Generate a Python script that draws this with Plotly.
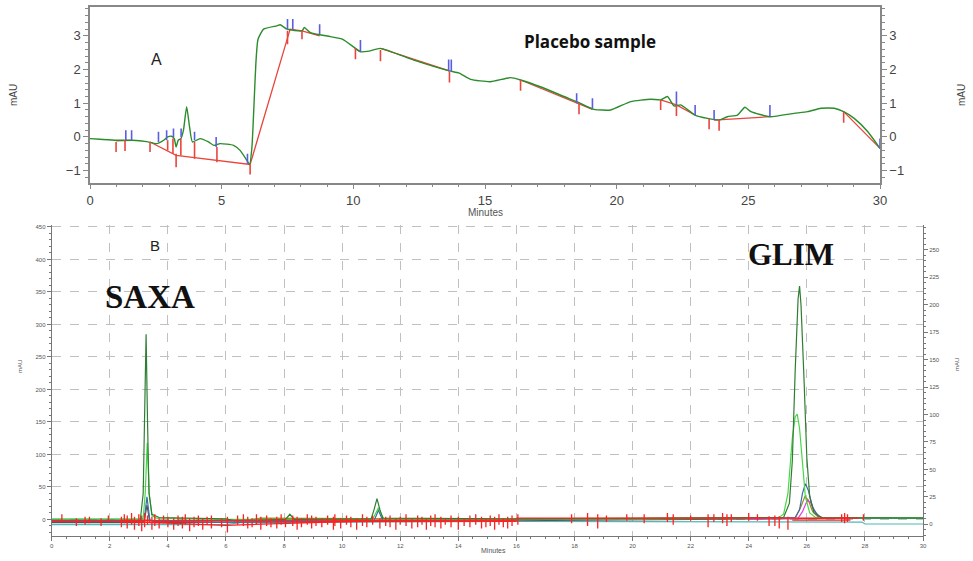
import plotly.graph_objects as go

W, H = 973, 561

# ---------------- Panel A (placebo sample) ----------------
a_time = [0, 0.38, 1.0, 1.6, 2.15, 2.53, 2.8, 2.95, 3.1, 3.2, 3.27, 3.35, 3.45, 3.55, 3.67, 3.78, 3.89, 4.18, 4.5, 4.7, 4.94, 5.45, 5.7, 5.96, 6.06,
          6.15, 6.23, 6.3, 6.38, 6.59, 7.1, 7.22, 7.48, 8.05, 8.14, 8.37, 9.13, 9.6, 10.08, 10.27, 10.6, 11.03, 12.3, 13.65, 14.0, 14.45,
          15.2, 15.97, 16.35, 17.1, 18.0, 18.57, 19.14, 19.77, 20.53, 21.3, 21.67, 21.93, 22.18, 22.43, 22.97, 23.45, 23.89, 24.2, 24.59,
          24.87, 25.1, 25.82, 26.74, 27.25, 27.76, 28.26, 28.62, 29.02, 29.53, 30.0]
a_mau = [-0.05, -0.07, -0.1, -0.1, -0.14, -0.2, -0.1, 0.0, 0.02, -0.05, -0.3, -0.1, -0.05, 0.2, 0.9, 0.3, -0.15, -0.05, -0.15, -0.25, -0.2, -0.25, -0.4, -0.7, -0.82,
         -0.3, 1.0, 2.2, 2.9, 3.2, 3.3, 3.33, 3.2, 3.15, 3.25, 3.1, 2.98, 2.9, 2.63, 2.53, 2.55, 2.63, 2.28, 1.96, 1.9, 1.71,
         1.64, 1.76, 1.69, 1.49, 1.2, 1.02, 0.82, 0.8, 1.05, 1.12, 1.1, 1.2, 0.92, 0.95, 0.65, 0.55, 0.5, 0.6, 0.65,
         0.88, 0.75, 0.6, 0.7, 0.75, 0.85, 0.85, 0.75, 0.55, 0.16, -0.34]

# integration baselines (None = break)
a_base_t = [0.99, 1.6, None, 2.28, 3.27, 6.08, 7.6, 8.05, 8.72, None, 10.05, 10.27, None, 11.03, 13.65, None,
            16.35, 18.57, 19.08, None, 21.67, 22.27, 22.97, None, 23.7, 25.82, None, 28.62, 30.0]
a_base_v = [-0.12, -0.1, None, -0.15, -0.55, -0.82, 3.2, 3.15, 3.0, None, 2.63, 2.53, None, 2.63, 1.96, None,
            1.69, 1.0, 0.82, None, 1.1, 0.95, 0.65, None, 0.5, 0.6, None, 0.75, -0.34]

# red (start) marks: time, top, bottom
a_red_t = [0.99, 1.33, 2.28, 2.95, 3.15, 3.27, 3.45, 3.97, 4.82, 6.08, 7.5, 8.05, 10.08, 11.03, 13.65, 16.35, 18.57, 21.67, 22.27, 23.51, 23.89, 28.62]
a_red_hi = [-0.15, -0.1, -0.15, -0.1, -0.05, -0.5, -0.05, -0.15, -0.3, -0.82, 3.15, 3.15, 2.63, 2.58, 1.94, 1.69, 1.0, 1.1, 0.95, 0.55, 0.5, 0.75]
a_red_lo = [-0.45, -0.42, -0.45, -0.4, -0.5, -0.9, -0.55, -0.65, -0.75, -1.12, 2.75, 2.9, 2.31, 2.25, 1.62, 1.37, 0.67, 0.8, 0.62, 0.23, 0.18, 0.42]

# blue (end) marks: time, bottom, top
a_blue_t = [1.36, 1.58, 2.6, 2.91, 3.17, 3.46, 3.97, 4.79, 5.98, 7.5, 7.7, 8.72, 10.27, 13.62, 13.72, 18.48, 19.08, 22.27, 22.98, 23.7, 25.82, 30.0]
a_blue_lo = [-0.1, -0.1, -0.15, -0.1, 0.0, 0.0, -0.1, -0.3, -0.8, 3.2, 3.2, 3.05, 2.53, 1.95, 1.95, 1.0, 0.85, 0.95, 0.65, 0.5, 0.6, -0.35]
a_blue_hi = [0.2, 0.2, 0.15, 0.2, 0.25, 0.25, 0.15, 0.0, -0.5, 3.5, 3.5, 3.35, 2.88, 2.3, 2.3, 1.3, 1.15, 1.35, 0.95, 0.8, 0.95, -0.05]

# ---------------- Panel B (overlaid standards) ----------------
b_dg_t = [0, 3.05, 3.15, 3.2, 3.25, 3.3, 3.35, 3.45, 3.7, 6.0, 6.3, 8.05, 8.2, 8.35, 11.0, 11.1, 11.2, 11.3, 11.4, 16.0,
          25.2, 25.4, 25.5, 25.6, 25.7, 25.75, 25.8, 25.9, 26.0, 26.1, 26.25, 26.5, 30]
b_dg_v = [-1, -1, 40, 180, 285, 150, 40, 8, 3, 1, -2, 0, 8, 0, 1, 15, 32, 15, 2, 1,
          3, 25, 90, 230, 340, 359, 330, 220, 95, 35, 10, 3, 2]
b_lg_t = [0, 3.15, 3.22, 3.29, 3.36, 3.45, 3.6, 6.0, 11.05, 11.15, 11.25, 11.35, 11.45, 25.0, 25.2, 25.35, 25.5, 25.6, 25.67,
          25.75, 25.85, 25.95, 26.1, 26.3, 30]
b_lg_v = [1, 1, 40, 118, 40, 6, 2, 0, 0, 8, 18, 8, 0, 2, 8, 40, 125, 158, 162, 140, 80, 35, 10, 3, 2]
b_bl_t = [0, 3.18, 3.28, 3.38, 3.5, 6.0, 11.1, 11.25, 11.4, 16.0, 25.6, 25.75, 25.85, 25.95, 26.05, 26.2, 26.4, 26.6, 30]
b_bl_v = [-3, -3, 35, -1, -3, -4, -2, 14, -2, 0, 3, 15, 40, 55, 45, 18, 5, 2, 2]
b_gr_t = [0, 3.18, 3.28, 3.38, 6.0, 16.0, 27.9, 30]
b_gr_v = [-5, -5, 22, -5, -4, -2, 2, 2]
b_ol_t = [0, 6.5, 7.2, 16.0, 25.6, 25.8, 25.93, 26.05, 26.2, 26.4, 30]
b_ol_v = [-2, -2, 2, 0, 2, 20, 35, 30, 12, 3, 2]
b_mg_t = [24.0, 25.7, 25.85, 26.02, 26.15, 26.3, 26.5, 27.5]
b_mg_v = [0, 2, 12, 30, 25, 10, 3, 1]
b_tl_t = [0, 6.0, 6.5, 16.0, 27.9, 28.0, 30]
b_tl_v = [-8, -8, -5, -3, -4, -7, -7]
b_rd_t = [0, 16.0, None, 2.4, 6.0, 11.0, 16.0, None, 16.0, 27.8, None, 25.5, 27.5]
b_rd_v = [-2, -1, None, -3, -9, -2, -3, None, 2, 2, None, -1, -1]

b_tick_t = [0.35, 0.85, 1.15, 1.3, 1.7, 1.95, 2.4, 2.5, 2.6, 2.75, 2.85, 3.0, 3.1, 3.2, 3.3, 3.45, 3.55, 3.7, 3.85, 4.0,
            4.2, 4.35, 4.5, 4.6, 4.75, 4.9, 5.05, 5.2, 5.35, 5.5, 5.85, 6.05, 6.4, 6.6, 6.75, 6.9, 7.05, 7.2, 7.4, 7.55,
            7.75, 7.9, 8.05, 8.3, 8.45, 8.6, 8.8, 8.95, 9.1, 9.3, 9.5, 9.7, 9.75, 9.95, 10.15, 10.3, 10.5, 10.7, 10.85, 11.05,
            11.3, 11.5, 11.65, 11.85, 12.0, 12.2, 12.4, 12.6, 12.75, 12.9, 13.05, 13.2, 13.4, 13.55, 13.75, 14.0, 14.2, 14.4, 14.6, 14.8,
            14.95, 15.1, 15.25, 15.4, 15.55, 15.7, 15.85, 16.05, 17.9, 18.45, 18.8, 19.1, 19.8, 20.4, 21.2, 21.4, 22.0, 22.6, 22.8, 23.1,
            23.25, 23.4, 24.0, 24.3, 24.7, 24.9, 25.05, 25.35, 27.2, 27.3, 27.4, 27.95]
b_tick_hi = [8, 2, 4, 4, 2, 6, 4, 8, 6, 10, 4, 8, 6, 10, 6, 4, 8, 2, 6, 4,
             2, 6, 4, 8, 2, 4, 6, 2, 4, 6, 2, 4, 6, 8, 4, 2, 8, 4, 6, 2,
             4, 8, 2, 6, 4, 2, 8, 6, 4, 2, 6, 4, 8, 2, 6, 4, 2, 8, 4, 6,
             2, 4, 6, 2, 4, 8, 2, 6, 4, 2, 6, 8, 4, 2, 6, 4, 2, 6, 8, 4,
             2, 6, 4, 8, 2, 4, 6, 8, 8, 10, 8, 6, 8, 8, 10, 8, 6, 8, 8, 10,
             8, 8, 10, 8, 5, 6, 5, 4, 8, 10, 8, 8]
b_tick_lo = [-4, -10, -8, -6, -10, -4, -12, -6, -14, -8, -16, -10, -18, -12, -8, -16, -10, -14, -6, -12,
             -16, -10, -14, -8, -18, -12, -10, -16, -8, -14, -12, -20, -8, -10, -14, -12, -8, -16, -10, -12,
             -14, -8, -12, -10, -16, -12, -8, -14, -10, -12, -8, -16, -10, -14, -8, -12, -16, -10, -12, -8,
             -14, -10, -12, -16, -8, -10, -14, -12, -8, -16, -10, -12, -14, -8, -12, -16, -10, -12, -8, -14,
             -12, -10, -16, -8, -12, -14, -10, -8, -6, -10, -14, -4, -2, -6, -4, -8, -2, -12, -4, -6,
             -10, -4, -2, -2, -10, -10, -14, -16, -4, -6, -4, -2]

# ---------------- helpers ----------------
def segs(xs, lo, hi):
    X, Y = [], []
    for x, a, b in zip(xs, lo, hi):
        X += [x, x, None]
        Y += [a, b, None]
    return X, Y

def px(x, y):
    return x / W, 1 - y / H

fig = go.Figure()

# Panel A traces
fig.add_trace(go.Scatter(x=a_base_t, y=a_base_v, mode="lines", line=dict(color="#e8453c", width=1.3),
                         xaxis="x", yaxis="y", hoverinfo="skip", showlegend=False, connectgaps=False))
fig.add_trace(go.Scatter(x=a_time, y=a_mau, mode="lines", line=dict(color="#2a8c2a", width=1.4, shape="spline", smoothing=0.5),
                         xaxis="x", yaxis="y", showlegend=False))
rx, ry = segs(a_red_t, a_red_lo, a_red_hi)
fig.add_trace(go.Scatter(x=rx, y=ry, mode="lines", line=dict(color="#e8453c", width=1.6),
                         xaxis="x", yaxis="y", hoverinfo="skip", showlegend=False))
bx, by = segs(a_blue_t, a_blue_lo, a_blue_hi)
fig.add_trace(go.Scatter(x=bx, y=by, mode="lines", line=dict(color="#5a5ee0", width=1.6),
                         xaxis="x", yaxis="y", hoverinfo="skip", showlegend=False))
fig.add_trace(go.Scatter(x=[0, 30], y=[-1.36, 3.85], mode="lines", line=dict(width=0), opacity=0,
                         xaxis="x", yaxis="y2", hoverinfo="skip", showlegend=False))

# Panel B traces
b_series = [
    (b_tl_t, b_tl_v, "#4fb8b8"),
    (b_gr_t, b_gr_v, "#555555"),
    (b_ol_t, b_ol_v, "#a08a25"),
    (b_mg_t, b_mg_v, "#e040e0"),
    (b_bl_t, b_bl_v, "#3f6aa8"),
    (b_lg_t, b_lg_v, "#45d845"),
    (b_dg_t, b_dg_v, "#2f7d32"),
]
for t, v, c in b_series:
    fig.add_trace(go.Scatter(x=t, y=v, mode="lines", line=dict(color=c, width=1.2),
                             xaxis="x2", yaxis="y3", showlegend=False))
fig.add_trace(go.Scatter(x=b_rd_t, y=b_rd_v, mode="lines", line=dict(color="#ff2020", width=1.3),
                         xaxis="x2", yaxis="y3", hoverinfo="skip", showlegend=False))
tx, ty = segs(b_tick_t, b_tick_lo, b_tick_hi)
fig.add_trace(go.Scatter(x=tx, y=ty, mode="lines", line=dict(color="#ff2020", width=1.3),
                         xaxis="x2", yaxis="y3", hoverinfo="skip", showlegend=False))
fig.add_trace(go.Scatter(x=[0, 30], y=[0, 250], mode="lines", line=dict(width=0), opacity=0,
                         xaxis="x2", yaxis="y4", hoverinfo="skip", showlegend=False))

axA = dict(color="#444", linecolor="#888", linewidth=1.5, ticks="outside", tickcolor="#888", ticklen=5, automargin=False,
           tickfont=dict(family="Liberation Sans, Arial", size=13, color="#444"), showgrid=False, zeroline=False)
axB = dict(color="#555", linecolor="#777", linewidth=1, ticks="outside", tickcolor="#777", ticklen=4, automargin=False,
           tickfont=dict(family="Liberation Sans, Arial", size=6, color="#555"), zeroline=False,
           showgrid=True, gridcolor="#c0c0c0", griddash="dash", gridwidth=1)

fig.update_layout(
    width=W, height=H, margin=dict(l=0, r=0, t=0, b=0),
    paper_bgcolor="white", plot_bgcolor="white",
    xaxis=dict(axA, domain=[90 / W, 880 / W], range=[0, 30], dtick=5, anchor="y", mirror=True, showline=True,
               minor=dict(dtick=1, ticklen=3, tickcolor="#888", ticks="outside")),
    yaxis=dict(axA, domain=[1 - 182.7 / H, 1 - 7.3 / H], range=[-1.36, 3.85], dtick=1, anchor="x", showline=True,
               minor=dict(dtick=0.2, ticklen=3, tickcolor="#888", ticks="outside")),
    yaxis2=dict(axA, overlaying="y", side="right", anchor="x", range=[-1.36, 3.85], dtick=1, showline=True,
                minor=dict(dtick=0.2, ticklen=3, tickcolor="#888", ticks="outside")),
    xaxis2=dict(axB, domain=[51.7 / W, 923 / W], range=[0, 30], dtick=2, anchor="y3", showline=True,
                minor=dict(dtick=0.5, ticklen=2, tickcolor="#777", ticks="outside", showgrid=False)),
    yaxis3=dict(axB, domain=[1 - 535.7 / H, 1 - 225 / H], range=[-25, 453], dtick=50, anchor="x2", showline=True,
                minor=dict(dtick=10, ticklen=2, tickcolor="#777", ticks="outside", showgrid=False)),
    yaxis4=dict(axB, overlaying="y3", side="right", anchor="x2", range=[-10.3, 272.5], dtick=25, showline=True,
                showgrid=False, minor=dict(dtick=5, ticklen=2, tickcolor="#777", ticks="outside", showgrid=False)),
)

def ann(x, y, text, size, family="Liberation Sans, Arial", color="#222", angle=0, bold=False):
    xp, yp = px(x, y)
    fig.add_annotation(x=xp, y=yp, xref="paper", yref="paper", text=("<b>%s</b>" % text) if bold else text,
                       showarrow=False, textangle=angle, xanchor="center", yanchor="middle", borderpad=0,
                       font=dict(family=family, size=size, color=color))

ann(156, 60, "A", 16)
ann(590, 42, "Placebo sample", 17, family="Open Sans, Liberation Sans", color="#111", bold=True)
ann(485, 212, "Minutes", 10, color="#555")
ann(14, 95, "mAU", 10, color="#444", angle=-90)
ann(962, 95, "mAU", 10, color="#444", angle=-90)

ann(155, 245, "B", 15)
ann(150, 297, "SAXA", 33, family="Liberation Serif, Times New Roman", color="#111", bold=True)
ann(791, 254, "GLIM", 31, family="Liberation Serif, Times New Roman", color="#111", bold=True)
ann(493, 550, "Minutes", 7, color="#555")
ann(20, 367, "mAU", 6, color="#555", angle=-90)
ann(957, 365, "mAU", 6, color="#555", angle=-90)

fig.write_html("out.html", config={"displayModeBar": False},
               post_script="document.body.style.margin='0px';document.body.style.overflow='hidden';")
